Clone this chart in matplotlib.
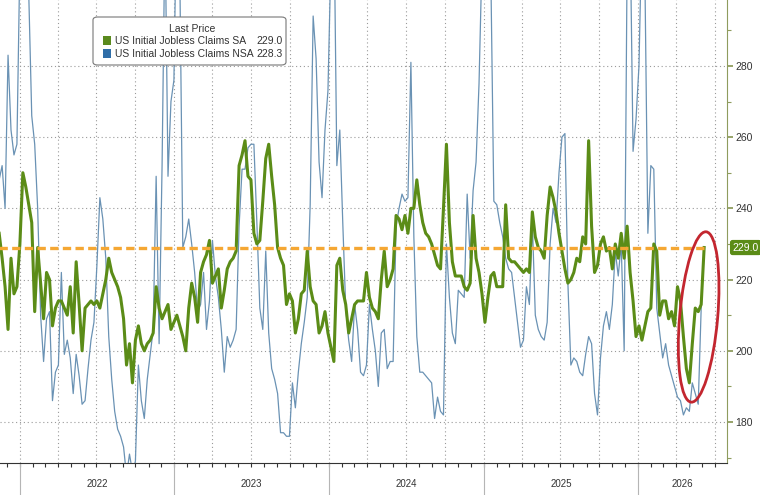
import pandas as pd
import matplotlib
matplotlib.use("Agg")
import matplotlib.pyplot as plt
import matplotlib.dates as mdates
import matplotlib.transforms as mtransforms
from matplotlib.patches import Ellipse, FancyBboxPatch, Rectangle
from matplotlib.ticker import MultipleLocator, NullFormatter

# weekly initial jobless claims (thousands), first week ending 2021-11-13
start_week = "2021-11-13"

sa_claims = [
    233, 226, 218, 206, 226, 216, 218, 230, 250, 246,
    241, 236, 211, 229, 219, 209, 222, 220, 207, 212,
    214, 214, 212, 210, 218, 205, 225, 213, 200, 212,
    213, 214, 213, 214, 212, 216, 220, 226, 222, 220,
    218, 215, 209, 196, 202, 191, 203, 207, 202, 200,
    202, 203, 205, 218, 212, 209, 211, 213, 206, 208,
    210, 207, 204, 200, 212, 219, 215, 208, 222, 225,
    227, 231, 219, 221, 223, 212, 217, 223, 225, 226,
    228, 252, 255, 259, 249, 248, 233, 230, 231, 242,
    254, 258, 249, 241, 229, 226, 224, 213, 216, 214,
    205, 209, 216, 217, 228, 218, 214, 213, 205, 207,
    211, 205, 201, 197, 224, 226, 217, 213, 205, 209,
    213, 214, 214, 214, 222, 215, 212, 211, 209, 220,
    228, 218, 220, 223, 238, 237, 234, 238, 233, 240,
    240, 248, 241, 236, 233, 232, 230, 227, 224, 223,
    240, 258, 236, 225, 221, 221, 221, 218, 217, 219,
    238, 226, 222, 216, 208, 215, 221, 222, 218, 218,
    218, 241, 226, 225, 225, 224, 223, 222, 223, 222,
    239, 232, 229, 228, 226, 238, 246, 243, 239, 233,
    228, 223, 219, 220, 222, 226, 225, 232, 230, 259,
    235, 222, 224, 230, 232, 228, 229, 223, 230, 226,
    233, 226, 235, 222, 214, 204, 207, 203, 207, 211,
    212, 230, 228, 210, 214, 214, 209, 211, 207, 218,
    214, 204, 195, 191, 202, 212, 211, 213, 229.0,
]

nsa_claims = [
    248, 252, 240, 283, 262, 255, 258, 310, 330, 320,
    300, 266, 258, 240, 210, 197, 209, 211, 186, 194,
    196, 222, 199, 203, 198, 188, 199, 193, 185, 186,
    195, 203, 208, 224, 243, 237, 226, 204, 192, 183,
    178, 176, 173, 165, 171, 166, 169, 196, 186, 181,
    192, 199, 206, 249, 202, 252, 320, 249, 270, 276,
    330, 305, 229, 232, 237, 230, 222, 211, 213, 222,
    206, 214, 231, 221, 215, 206, 194, 204, 201, 203,
    206, 235, 251, 251, 257, 258, 258, 236, 212, 206,
    228, 205, 195, 192, 188, 177, 177, 176, 176, 191,
    184, 194, 202, 208, 215, 241, 294, 282, 253, 243,
    262, 273, 310, 325, 252, 262, 236, 212, 203, 197,
    213, 206, 194, 193, 196, 213, 206, 200, 190, 205,
    206, 195, 197, 197, 235, 240, 244, 242, 243, 281,
    232, 204, 194, 194, 193, 192, 191, 181, 187, 183,
    182, 230, 215, 205, 202, 217, 216, 215, 244, 226,
    245, 253, 275, 310, 335, 320, 305, 242, 241, 236,
    232, 226, 223, 222, 215, 208, 201, 203, 218, 213,
    236, 210, 206, 204, 203, 208, 230, 240, 236, 250,
    260, 261, 219, 196, 198, 197, 194, 193, 199, 204,
    202, 188, 182, 198, 207, 211, 206, 213, 228, 221,
    230, 200, 310, 320, 256, 265, 280, 320, 305, 233,
    252, 251, 212, 205, 198, 202, 196, 193, 190, 187,
    186, 182, 184, 183, 191, 188, 185, 212, 228.3,
]

last_sa = 229.0
last_nsa = 228.3
years = [2022, 2023, 2024, 2025, 2026]
y_ticks = [180, 200, 220, 240, 260, 280]
highlight_date = "2026-05-24"
highlight_value = 209.5

dates = pd.date_range(start_week, periods=len(sa_claims), freq="7D")

plt.rcParams["font.family"] = ["Liberation Sans", "DejaVu Sans"]

green = "#5b8c17"
blue = "#6a92b4"
orange = "#f5a733"
olive = "#8f9c5e"

fig = plt.figure(figsize=(7.6, 4.95), dpi=100)
ax = fig.add_axes([0, 1 - 463 / 495, 727 / 760, 463 / 495])

ax.plot(dates, nsa_claims, color=blue, lw=0.9, zorder=3)
ax.plot(dates, sa_claims, color=green, lw=2.2, zorder=4)
ax.plot([dates[0], dates[-1]], [last_sa, last_sa], color=orange, lw=2.4,
        dashes=(2.5, 1.3), zorder=5)

xmin = pd.Timestamp("2021-11-15")
xmax = pd.Timestamp("2026-07-30")
ax.set_xlim(xmin, xmax)
ax.set_ylim(168.5, 298.5)

# x axis: quarterly grid, monthly ticks, years below
ax.xaxis.set_major_locator(mdates.MonthLocator(bymonth=[1, 4, 7, 10]))
ax.xaxis.set_minor_locator(mdates.MonthLocator())
ax.xaxis.set_major_formatter(NullFormatter())
ax.tick_params(axis="x", which="both", direction="out", length=3, width=0.8, color="#333333")

# y axis on the right
ax.yaxis.tick_right()
ax.set_yticks(y_ticks)
ax.yaxis.set_minor_locator(MultipleLocator(10))
ax.tick_params(axis="y", which="major", direction="out", length=4, width=1.3,
               color=olive, labelsize=7.5, labelcolor="#333333", pad=2)
ax.tick_params(axis="y", which="minor", direction="out", length=3, width=0.8, color=olive)

ax.grid(True, which="major", color="#9a9a9a", linestyle=(0, (1, 2.5)), lw=0.8)
ax.set_axisbelow(True)

for side in ["left", "top"]:
    ax.spines[side].set_visible(False)
ax.spines["right"].set_color(olive)
ax.spines["bottom"].set_color("#333333")

trans = ax.get_xaxis_transform()
for i, yr in enumerate(years):
    x0 = pd.Timestamp(f"{yr}-01-01")
    ax.plot([x0, x0], [0, -0.075], transform=trans, color="#b5b5b5", lw=0.8, clip_on=False)
    x1 = pd.Timestamp(f"{yr + 1}-01-01") if yr < years[-1] else xmax
    mid = x0 + (x1 - x0) / 2
    ax.text(mid, -0.045, str(yr), transform=trans, ha="center", va="center",
            fontsize=7, color="#333333")

# last value tag
ax.annotate(f"{last_sa:.1f}", xy=(1, last_sa), xycoords=ax.get_yaxis_transform(),
            xytext=(4, 0), textcoords="offset points", ha="left", va="center",
            color="white", fontsize=7.5, annotation_clip=False,
            bbox=dict(boxstyle="round,pad=0.25", fc=green, ec="none"))

# red ellipse around the latest weeks
cx, cy = ax.transData.transform((mdates.date2num(pd.Timestamp(highlight_date)), highlight_value))
ax.add_patch(Ellipse((cx, cy), 38, 171, angle=-5, transform=mtransforms.IdentityTransform(),
                     fill=False, ec="#c3262f", lw=2.0, zorder=6))

# legend box
ft = fig.transFigure
fig.patches.append(FancyBboxPatch((93 / 760, 1 - 65 / 495), 193 / 760, 48 / 495,
                                  boxstyle="round,pad=0,rounding_size=0.006",
                                  transform=ft, fc="white", ec="#777777", lw=0.8, zorder=10))
fig.text(192 / 760, 1 - 29 / 495, "Last Price", transform=ft, ha="center", va="center",
         fontsize=7.5, color="#333333", zorder=11)
rows = [("US Initial Jobless Claims SA", last_sa, "#5a8a1e", 41),
        ("US Initial Jobless Claims NSA", last_nsa, "#2f6ea8", 54)]
for label, val, col, ypx in rows:
    fig.patches.append(Rectangle((103 / 760, 1 - (ypx + 4) / 495), 8 / 760, 9 / 495,
                                 transform=ft, fc=col, ec="none", zorder=11))
    fig.text(115 / 760, 1 - ypx / 495, label, transform=ft, ha="left", va="center",
             fontsize=7.5, color="#333333", zorder=11)
    fig.text(283 / 760, 1 - ypx / 495, f"{val:.1f}", transform=ft, ha="right", va="center",
             fontsize=7.5, color="#333333", zorder=11)

fig.savefig("out.png", dpi=100)
